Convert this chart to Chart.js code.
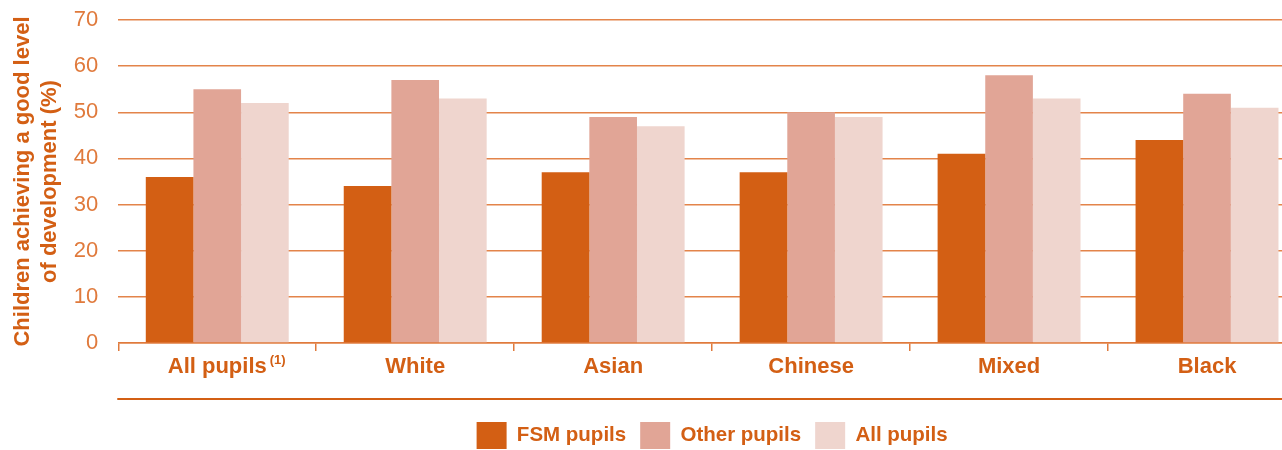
<!DOCTYPE html>
<html>
<head>
<meta charset="utf-8">
<script src="https://cdn.jsdelivr.net/npm/chart.js@4.4.1/dist/chart.umd.min.js"></script>
<style>
  html, body { margin: 0; padding: 0; background: #ffffff; overflow: hidden; }
  #wrap { width: 1282px; height: 450px; position: relative; overflow: hidden; }
  #c { position: absolute; left: 0; top: 0; }
</style>
</head>
<body>
<div id="wrap"><canvas id="c" width="1306" height="450"></canvas></div>
<script>
const categories = ["All pupils", "White", "Asian", "Chinese", "Mixed", "Black"];
const categoryNotes = ["(1)", "", "", "", "", ""];
const seriesNames = ["FSM pupils", "Other pupils", "All pupils"];
const fsmPupils = [36, 34, 37, 37, 41, 44];
const otherPupils = [55, 57, 49, 50, 58, 54];
const allPupils = [52, 53, 47, 49, 53, 51];
const yTicks = [0, 10, 20, 30, 40, 50, 60, 70];
const yTitle = ["Children achieving a good level", "of development (%)"];

const ORANGE = '#d35f14';
const colors = ['#d35f14', '#e1a596', '#efd5ce'];
const FAMILY = 'Liberation Sans, Arial, sans-serif';
const X_FONT_SIZE = 22;

const decorPlugin = {
  id: 'decor',
  afterDraw(chart) {
    const x = chart.scales.x;
    const ctx = chart.ctx;
    ctx.save();
    // separator line beneath category labels
    ctx.strokeStyle = ORANGE;
    ctx.lineWidth = 2;
    const y = x.bottom - 9;
    ctx.beginPath();
    ctx.moveTo(x.left - 1, y);
    ctx.lineTo(x.right, y);
    ctx.stroke();
    // footnote markers on category labels
    const labelItems = x.getLabelItems();
    categoryNotes.forEach((note, i) => {
      if (!note) return;
      ctx.font = 'bold ' + X_FONT_SIZE + 'px ' + FAMILY;
      const w = ctx.measureText(categories[i]).width;
      const cx = x.getPixelForTick(i);
      const item = labelItems[i];
      const ly = item ? item.options.translation[1] : x.top + 20;
      ctx.font = 'bold 13px ' + FAMILY;
      ctx.fillStyle = ORANGE;
      ctx.textAlign = 'left';
      ctx.textBaseline = 'top';
      ctx.fillText(note, cx + w / 2 + 3, ly);
    });
    ctx.restore();
  }
};

new Chart(document.getElementById('c'), {
  type: 'bar',
  data: {
    labels: categories,
    datasets: [
      { label: seriesNames[0], data: fsmPupils, backgroundColor: colors[0] },
      { label: seriesNames[1], data: otherPupils, backgroundColor: colors[1] },
      { label: seriesNames[2], data: allPupils, backgroundColor: colors[2] }
    ]
  },
  options: {
    responsive: false,
    animation: false,
    devicePixelRatio: 1,
    layout: { padding: { top: 20, right: 0, left: 0, bottom: -9 } },
    datasets: { bar: { categoryPercentage: 0.722, barPercentage: 1.0 } },
    plugins: {
      legend: {
        position: 'bottom',
        fullSize: false,
        labels: {
          boxWidth: 30,
          boxHeight: 27,
          padding: 14,
          color: ORANGE,
          font: { family: FAMILY, size: 20.5, weight: 'bold' }
        }
      },
      tooltip: { enabled: false }
    },
    scales: {
      x: {
        offset: true,
        grid: {
          offset: true,
          drawOnChartArea: false,
          drawTicks: true,
          tickLength: 8,
          color: '#e07a3c',
          lineWidth: 1.5
        },
        border: { display: true, color: '#e07a3c', width: 1.5 },
        ticks: {
          color: ORANGE,
          padding: 3,
          font: { family: FAMILY, size: X_FONT_SIZE, weight: 'bold' }
        },
        afterFit(scale) { scale.height = 65; }
      },
      y: {
        min: 0,
        max: 70,
        afterBuildTicks(scale) { scale.ticks = yTicks.map(v => ({ value: v })); },
        afterFit(scale) { scale.paddingTop = 0; scale.paddingBottom = 0; },
        grid: {
          color: '#e3844a',
          lineWidth: 1.5,
          drawTicks: false
        },
        border: { display: false },
        ticks: {
          color: '#e07a3c',
          padding: 20,
          font: { family: FAMILY, size: 22, weight: 'normal' }
        },
        title: {
          display: true,
          text: yTitle,
          color: ORANGE,
          padding: { top: 10, bottom: -9 },
          font: { family: FAMILY, size: 22, weight: 'bold', lineHeight: 1.2 }
        }
      }
    }
  },
  plugins: [decorPlugin]
});
</script>
</body>
</html>
